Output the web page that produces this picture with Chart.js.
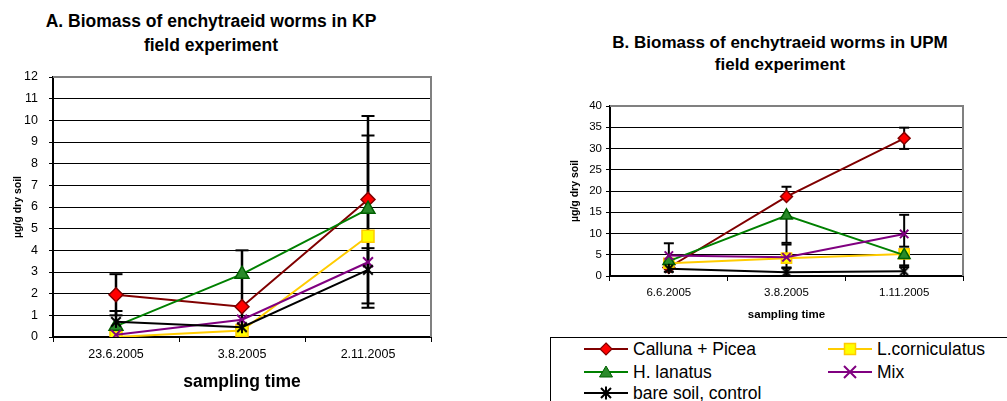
<!DOCTYPE html>
<html>
<head>
<meta charset="utf-8">
<script src="https://cdn.jsdelivr.net/npm/chart.js@4"></script>
<style>
  body { margin: 0; width: 1007px; height: 401px; position: relative; overflow: hidden; background: #fff;
         font-family: "Liberation Sans", Arial, sans-serif; color: #000; }
  .title { position: absolute; font-weight: bold; text-align: center; white-space: nowrap; }
  #titleA { left: 0; width: 422px; top: 10px; font-size: 17.5px; line-height: 23.5px; }
  #titleB { left: 580px; width: 400px; top: 32px; font-size: 17px; line-height: 22px; }
  #wrapA { position: absolute; left: 0; top: 0; width: 470px; height: 401px; }
  #wrapB { position: absolute; left: 540px; top: 0; width: 467px; height: 330px; }
  #legend { position: absolute; left: 550px; top: 337px; width: 470px; height: 80px; border: 1px solid #000; }
  .item { position: absolute; height: 20px; display: flex; align-items: center; font-size: 17.5px; white-space: nowrap; }
  .item svg { margin-right: 5px; }
</style>
</head>
<body>
<div class="title" id="titleA">A. Biomass of enchytraeid worms in KP<br>field experiment</div>
<div class="title" id="titleB">B. Biomass of enchytraeid worms in UPM<br>field experiment</div>
<div id="wrapA"><canvas id="chartA"></canvas></div>
<div id="wrapB"><canvas id="chartB"></canvas></div>
<div id="legend"></div>

<script>
// ---- data ----
const seriesNames = ["Calluna + Picea", "L.corniculatus", "H. lanatus", "Mix", "bare soil, control"];

const labelsA = ["23.6.2005", "3.8.2005", "2.11.2005"];
const callunaA = [1.95, 1.4, 6.35];
const lcornA = [0, 0.3, 4.65];
const lanatusA = [0.5, 2.9, 5.9];
const mixA = [0.1, 0.8, 3.45];
const bareA = [0.7, 0.45, 3.1];

// error bars (plus / minus), chart A
const callunaAUp = [0.95, 0, 3.85];
const callunaADown = [0.95, 0, 5.0];
const lanatusAUp = [0, 1.1, 3.4];
const lanatusADown = [0, 2.5, 4.35];
const bareAUp = [0.5, 0, 1.0];

const labelsB = ["6.6.2005", "3.8.2005", "1.11.2005"];
const callunaB = [2.0, 18.7, 32.4];
const lcornB = [3.0, 4.2, 5.2];
const lanatusB = [3.5, 14.2, 4.9];
const mixB = [4.8, 4.4, 9.9];
const bareB = [1.7, 0.9, 1.1];

// error bars (plus / minus), chart B
const callunaBUp = [0, 2.3, 2.5];
const callunaBDown = [0, 0, 2.5];
const lanatusBDown = [0, 6.4, 0];
const lcornBDown = [0, 2.2, 2.7];
const mixBUp = [2.9, 3.0, 4.5];
const mixBDown = [3.8, 0, 3.0];
const bareBUp = [0, 1.0, 1.0];

Chart.defaults.font.family = '"Liberation Sans", Arial, sans-serif';
Chart.defaults.color = "#000";

/* asterisk marker like the Excel "star": an X with a vertical stroke */
function starMarker(size) {
  const c = document.createElement("canvas");
  c.width = c.height = size;
  const g = c.getContext("2d");
  const h = size / 2, r = size / 2 - 1;
  g.strokeStyle = "#000";
  g.lineWidth = 2;
  g.beginPath();
  g.moveTo(h - r * 0.8, h - r * 0.8); g.lineTo(h + r * 0.8, h + r * 0.8);
  g.moveTo(h + r * 0.8, h - r * 0.8); g.lineTo(h - r * 0.8, h + r * 0.8);
  g.moveTo(h, h - r); g.lineTo(h, h + r);
  g.stroke();
  return c;
}

// error bars + grey top/right frame
const errorBars = {
  id: "errorBars",
  beforeDatasetsDraw(chart, args, opts) {
    const { ctx, chartArea: a, scales: { x, y } } = chart;
    ctx.save();
    ctx.strokeStyle = "#808080";
    ctx.lineWidth = 2;
    ctx.beginPath();
    ctx.moveTo(a.left, a.top);
    ctx.lineTo(a.right, a.top);
    ctx.lineTo(a.right, a.bottom);
    ctx.stroke();

    ctx.strokeStyle = "#000";
    chart.data.datasets.forEach((ds) => {
      ds.data.forEach((v, i) => {
        const px = x.getPixelForValue(i);
        [[ds.errUp, 1], [ds.errDown, -1]].forEach(([arr, sign]) => {
          if (!arr || !arr[i]) return;
          const y0 = y.getPixelForValue(v);
          const y1 = y.getPixelForValue(v + sign * arr[i]);
          ctx.lineWidth = opts.width;
          ctx.beginPath();
          ctx.moveTo(px, y0);
          ctx.lineTo(px, y1);
          ctx.stroke();
          ctx.lineWidth = 2;
          ctx.beginPath();
          ctx.moveTo(px - opts.cap, y1);
          ctx.lineTo(px + opts.cap, y1);
          ctx.stroke();
        });
      });
    });
    ctx.restore();
  },
};

function makeDatasets(values, errs, big) {
  const k = big ? 1 : 0.85;
  const styles = [
    { line: "#800000", fill: "#ff0000", border: "#800000", point: "rectRot", r: 7 },
    { line: "#ffcc00", fill: "#ffff00", border: "#ffcc00", point: "rect", r: 8.5 },
    { line: "#008000", fill: "#2a8a2a", border: "#006000", point: "triangle", r: 8 },
    { line: "#800080", fill: "#800080", border: "#800080", point: "crossRot", r: 7 },
    { line: "#000000", fill: "#000000", border: "#000000", point: starMarker(big ? 14 : 12), r: 7 },
  ];
  return values.map((data, i) => ({
    label: seriesNames[i],
    data,
    errUp: errs[i][0],
    errDown: errs[i][1],
    borderColor: styles[i].line,
    borderWidth: 2,
    pointStyle: styles[i].point,
    pointRadius: styles[i].r * k,
    pointBackgroundColor: styles[i].fill,
    pointBorderColor: styles[i].border,
    pointBorderWidth: i === 3 ? 2 : 1.5,
    tension: 0,
    order: 5 - i,
  }));
}

function makeChart(id, labels, datasets, o) {
  return new Chart(document.getElementById(id), {
    type: "line",
    data: { labels, datasets },
    plugins: [errorBars],
    options: {
      responsive: true,
      maintainAspectRatio: false,
      animation: false,
      layout: { padding: { top: o.top, right: o.right, left: 0, bottom: 0 } },
      plugins: {
        legend: { display: false },
        tooltip: { enabled: false },
        errorBars: { cap: o.cap, width: o.barWidth },
      },
      scales: {
        x: {
          offset: true,
          ticks: { color: "#000", font: { size: o.tickSize }, padding: o.xPad, maxRotation: 0 },
          grid: { offset: true, drawOnChartArea: false, color: "#000", tickLength: 5 },
          border: { color: "#000", width: 2 },
          title: { display: true, text: "sampling time", color: "#000",
                   font: { size: o.xTitleSize, weight: "bold" }, padding: { top: 0, bottom: o.xTitlePad } },
          afterFit: (s) => { s.height = o.xHeight; },
        },
        y: {
          min: 0,
          max: o.max,
          ticks: { stepSize: o.step, color: "#000", font: { size: o.tickSize }, padding: o.yPad },
          grid: { color: "#000", lineWidth: 1, tickLength: 4 },
          border: { color: "#000", width: 2 },
          title: { display: true, text: "µg/g dry soil", color: "#000",
                   font: { size: 10.5, weight: "bold" }, padding: { top: o.yTitlePad, bottom: 0 } },
          afterFit: (s) => { s.width = o.yWidth; },
        },
      },
    },
  });
}

makeChart("chartA", labelsA,
  makeDatasets([callunaA, lcornA, lanatusA, mixA, bareA],
    [[callunaAUp, callunaADown], [null, null], [lanatusAUp, lanatusADown], [null, null], [bareAUp, null]], true),
  { top: 77, right: 39, cap: 6.5, barWidth: 2.5, tickSize: 12.5, xPad: 5, xTitleSize: 17.5, xTitlePad: 8,
    xHeight: 64, max: 12, step: 1, yPad: 11, yTitlePad: 12, yWidth: 53 });

makeChart("chartB", labelsB,
  makeDatasets([callunaB, lcornB, lanatusB, mixB, bareB],
    [[callunaBUp, callunaBDown], [null, lcornBDown], [null, lanatusBDown], [mixBUp, mixBDown], [bareBUp, null]], false),
  { top: 106, right: 44, cap: 5, barWidth: 2, tickSize: 11.5, xPad: 5, xTitleSize: 11.5, xTitlePad: 8,
    xHeight: 54, max: 40, step: 5, yPad: 4, yTitlePad: 29, yWidth: 70 });

// ---- legend ----
const legendMarks = [
  { color: "#800000", mark: '<polygon points="22,2 28,8 22,14 16,8" fill="#ff0000" stroke="#800000" stroke-width="1.2"/>' },
  { color: "#ffcc00", mark: '<rect x="16.5" y="2.5" width="11" height="11" fill="#ffff00" stroke="#ffcc00" stroke-width="1.5"/>' },
  { color: "#008000", mark: '<polygon points="22,2 28.5,13 15.5,13" fill="#2a8a2a" stroke="#006000" stroke-width="1"/>' },
  { color: "#800080", mark: '<path d="M16,2 L28,14 M28,2 L16,14" stroke="#800080" stroke-width="2"/>' },
  { color: "#000000", mark: '<path d="M17,3 L27,13 M27,3 L17,13 M22,1.5 L22,14.5" stroke="#000" stroke-width="2"/>' },
];
const legendPos = [[33, 1], [277, 1], [33, 24], [277, 24], [33, 45]];
const legend = document.getElementById("legend");
seriesNames.forEach((name, i) => {
  const d = document.createElement("div");
  d.className = "item";
  d.style.left = legendPos[i][0] + "px";
  d.style.top = legendPos[i][1] + "px";
  d.innerHTML =
    '<svg width="44" height="16"><line x1="0" y1="8" x2="44" y2="8" stroke="' + legendMarks[i].color +
    '" stroke-width="2"/>' + legendMarks[i].mark + "</svg><span>" + name + "</span>";
  legend.appendChild(d);
});
</script>
</body>
</html>
